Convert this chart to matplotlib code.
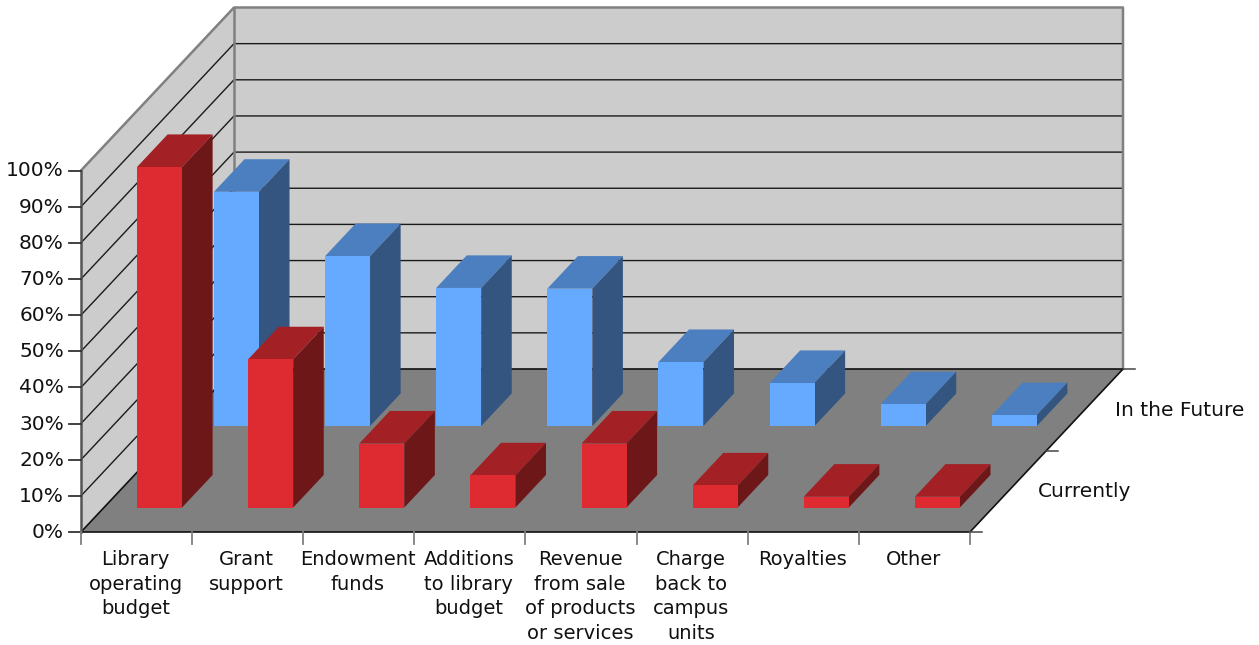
import matplotlib
matplotlib.use('Agg')
import matplotlib.pyplot as plt

categories = ['Library\noperating\nbudget', 'Grant\nsupport', 'Endowment\nfunds',
              'Additions\nto library\nbudget', 'Revenue\nfrom sale\nof products\nor services',
              'Charge\nback to\ncampus\nunits', 'Royalties', 'Other']
series_names = ['Currently', 'In the Future']
currently = [94.2, 41, 17.7, 8.9, 17.7, 6.1, 3, 3]
in_the_future = [64.8, 47, 38.2, 38, 17.7, 11.9, 6, 3]
y_ticks = [0, 10, 20, 30, 40, 50, 60, 70, 80, 90, 100]

# layout of the fake 3d box, in pixels
X0, Y0 = 81, 532
CAT_W = 889 / len(categories)
PCT = 3.615
DX, DY = 153, -163
BAR_W = 45
BAR_D = 0.2  # depth of a bar as share of the whole floor

RED = ['#de2b32', '#a32025', '#6e1719']
BLUE = ['#66aaff', '#4c7fbf', '#335580']
TEXT = '#111111'

fig = plt.figure(figsize=(12.59, 6.45), dpi=100)
ax = fig.add_axes([0, 0, 1, 1])
ax.set_xlim(0, 1259)
ax.set_ylim(645, 0)
ax.axis('off')


def pt(x, depth, pct):
    # x in pixels along the front edge, depth 0..1 front to back, pct value
    return X0 + x + DX * depth, Y0 + DY * depth - pct * PCT


def quad(points, color, z):
    xs = [p[0] for p in points]
    ys = [p[1] for p in points]
    ax.fill(xs, ys, facecolor=color, edgecolor='none', zorder=z)


def bar(i, s, value, colors):
    left = CAT_W * i + (CAT_W - BAR_W) / 2 + 0.4 * s
    right = left + BAR_W
    d0 = (s + 0.5) / 2 - BAR_D / 2
    d1 = d0 + BAR_D
    z = 5 - s
    quad([pt(left, d0, 0), pt(right, d0, 0), pt(right, d0, value), pt(left, d0, value)], colors[0], z + 0.2)
    quad([pt(left, d0, value), pt(right, d0, value), pt(right, d1, value), pt(left, d1, value)], colors[1], z + 0.1)
    quad([pt(right, d0, 0), pt(right, d1, 0), pt(right, d1, value), pt(right, d0, value)], colors[2], z + 0.1)


W = CAT_W * len(categories)
top = y_ticks[-1]

# walls and floor
quad([pt(0, 1, 0), pt(W, 1, 0), pt(W, 1, top), pt(0, 1, top)], '#cccccc', 1)
quad([pt(0, 0, 0), pt(0, 1, 0), pt(0, 1, top), pt(0, 0, top)], '#cccccc', 1)
quad([pt(0, 0, 0), pt(W, 0, 0), pt(W, 1, 0), pt(0, 1, 0)], '#808080', 1.1)

# grid lines
for t in y_ticks[1:-1]:
    a, b, c = pt(0, 0, t), pt(0, 1, t), pt(W, 1, t)
    ax.plot([a[0], b[0], c[0]], [a[1], b[1], c[1]], color='#1a1a1a', lw=1.0, zorder=2)

# wall edges
a, b, c, d = pt(0, 0, top), pt(0, 1, top), pt(W, 1, top), pt(W, 1, 0)
ax.plot([a[0], b[0], c[0], d[0]], [a[1], b[1], c[1], d[1]], color='#808080', lw=1.8, zorder=2)
a, b = pt(0, 1, 0), pt(0, 1, top)
ax.plot([a[0], b[0]], [a[1], b[1]], color='#808080', lw=1.8, zorder=2)

# floor outline
a, b, c, d = pt(0, 0, 0), pt(0, 1, 0), pt(W, 1, 0), pt(W, 0, 0)
ax.plot([a[0], b[0], c[0], d[0], a[0]], [a[1], b[1], c[1], d[1], a[1]], color='#111111', lw=1.2, zorder=2.5)

# axes and ticks
a, b = pt(0, 0, 0), pt(0, 0, top)
ax.plot([a[0], b[0]], [a[1], b[1]], color='#555555', lw=1.8, zorder=3)
for t in y_ticks:
    p = pt(0, 0, t)
    ax.plot([p[0] - 12, p[0]], [p[1], p[1]], color='#333333', lw=1.3, zorder=3)
    ax.text(p[0] - 17, p[1] + 0.5, '%d%%' % t, ha='right', va='center', fontsize=14.5, color=TEXT)

for i in range(len(categories) + 1):
    p = pt(CAT_W * i, 0, 0)
    ax.plot([p[0], p[0]], [p[1], p[1] + 12], color='#808080', lw=1.3, zorder=3)

for i, name in enumerate(categories):
    p = pt(CAT_W * (i + 0.5), 0, 0)
    ax.text(p[0] - 1, 550, name, ha='center', va='top', fontsize=14, color=TEXT, linespacing=1.38)

for s in range(3):
    p = pt(W, s / 2, 0)
    ax.plot([p[0], p[0] + 12], [p[1], p[1]], color='#444444', lw=1.1, zorder=3)

for s, name in enumerate(series_names):
    p = pt(W, (s + 0.5) / 2, 0)
    ax.text(p[0] + 30, p[1] + 0.5, name, ha='left', va='center', fontsize=14.5, color=TEXT)

# bars, back series first
for i, v in enumerate(in_the_future):
    bar(i, 1, v, BLUE)
for i, v in enumerate(currently):
    bar(i, 0, v, RED)

fig.savefig('out.png', dpi=100)
